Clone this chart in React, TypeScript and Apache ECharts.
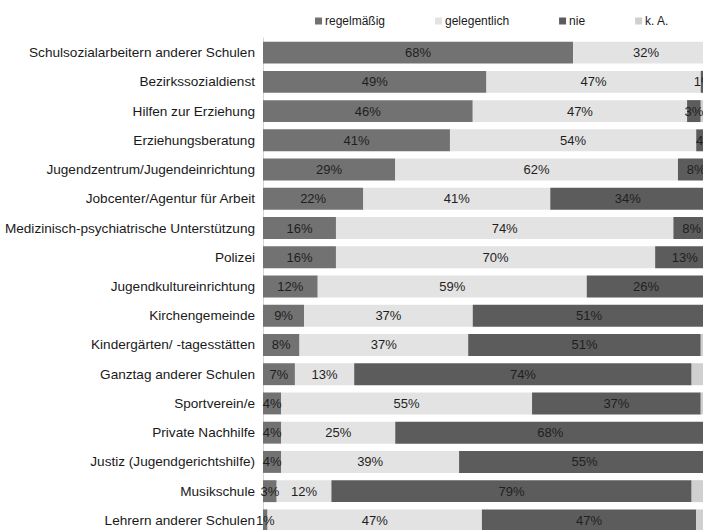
import React, { useEffect, useRef } from "react";
import * as echarts from "echarts";

const categories = [
  "Schulsozialarbeitern anderer Schulen",
  "Bezirkssozialdienst",
  "Hilfen zur Erziehung",
  "Erziehungsberatung",
  "Jugendzentrum/Jugendeinrichtung",
  "Jobcenter/Agentur für Arbeit",
  "Medizinisch-psychiatrische Unterstützung",
  "Polizei",
  "Jugendkultureinrichtung",
  "Kirchengemeinde",
  "Kindergärten/ -tagesstätten",
  "Ganztag anderer Schulen",
  "Sportverein/e",
  "Private Nachhilfe",
  "Justiz (Jugendgerichtshilfe)",
  "Musikschule",
  "Lehrern anderer Schulen",
];

const regelmaessig = [68, 49, 46, 41, 29, 22, 16, 16, 12, 9, 8, 7, 4, 4, 4, 3, 1];
const gelegentlich = [32, 47, 47, 54, 62, 41, 74, 70, 59, 37, 37, 13, 55, 25, 39, 12, 47];
const nie = [0, 1, 3, 4, 8, 34, 8, 13, 26, 51, 51, 74, 37, 68, 55, 79, 47];
const keineAngabe = [0, 3, 4, 1, 1, 3, 2, 1, 3, 3, 4, 6, 4, 3, 2, 6, 5];

const seriesNames = ["regelmäßig", "gelegentlich", "nie", "k. A."];
const seriesColors = ["#727272", "#e3e3e3", "#5c5c5c", "#d0d0d0"];

export default function App() {
  const ref = useRef<HTMLDivElement>(null);
  useEffect(() => {
    if (!ref.current) return;
    const chart = echarts.init(ref.current, undefined, { renderer: "svg" });
    const font = "'Liberation Sans', Arial, sans-serif";
    const dataSets = [regelmaessig, gelegentlich, nie, keineAngabe];
    chart.setOption({
      animation: false,
      backgroundColor: "#ffffff",
      textStyle: { fontFamily: font },
      legend: {
        top: 10,
        left: 310,
        itemWidth: 7,
        itemHeight: 7,
        itemGap: 50,
        icon: "rect",
        textStyle: { fontSize: 12, color: "#1a1a1a", fontFamily: font, padding: [0, 0, 0, -2] },
        data: seriesNames,
      },
      grid: { left: 263, right: 0, top: 38, bottom: 0, containLabel: false },
      xAxis: { type: "value", min: 0, max: 100, show: false },
      yAxis: {
        type: "category",
        inverse: true,
        data: categories,
        axisLine: { show: true, lineStyle: { color: "#d4d4d4", width: 1 } },
        axisTick: { show: false },
        axisLabel: { fontSize: 13.6, color: "#1a1a1a", margin: 8, fontFamily: font },
      },
      series: dataSets.map((d, i) => ({
        name: seriesNames[i],
        type: "bar",
        stack: "total",
        barCategoryGap: "25%",
        data: d,
        itemStyle: { color: seriesColors[i] },
        label: {
          show: i !== 3,
          position: "inside",
          fontSize: 13,
          color: "#1f1f1f",
          fontFamily: font,
          formatter: (p: any) => (p.value > 0 ? p.value + "%" : ""),
        },
      })),
    });
    return () => chart.dispose();
  }, []);
  return (
    <div style={{ position: "fixed", left: 0, top: 0, width: 703, height: 530, overflow: "hidden" }}>
      <div ref={ref} style={{ width: 719, height: 535 }} />
    </div>
  );
}
